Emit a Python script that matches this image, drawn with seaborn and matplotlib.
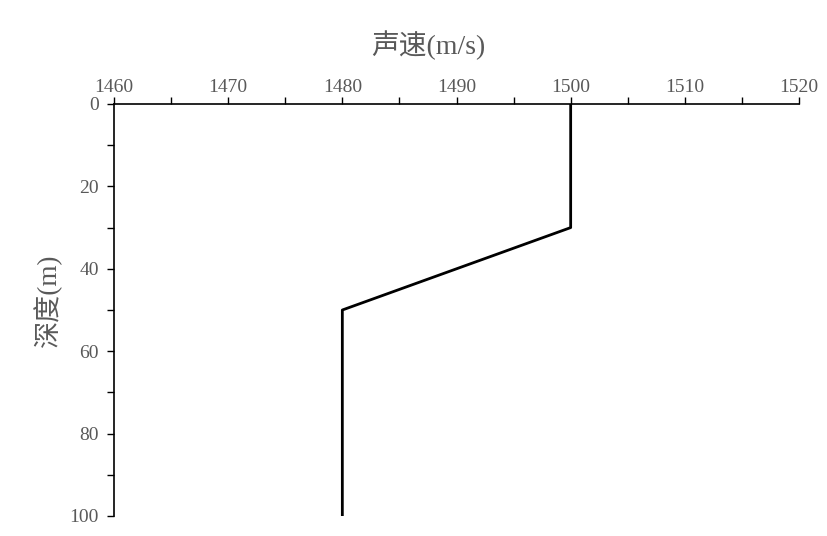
import matplotlib
matplotlib.use("Agg")
import matplotlib.pyplot as plt
import seaborn as sns
import pandas as pd
from matplotlib.ticker import MultipleLocator

speed = [1500, 1500, 1480, 1480]
depth = [0, 30, 50, 100]
x_label = "声速(m/s)"
y_label = "深度(m)"

sns.set_style("white")
plt.rcParams['font.family'] = ['Liberation Serif', 'Noto Sans CJK SC', 'DejaVu Sans']

df = pd.DataFrame({"speed": speed, "depth": depth})

fig = plt.figure(figsize=(8.28, 5.36), dpi=100)
ax = fig.add_axes([114/828, 1 - 516/536, (799 - 114)/828, (516 - 104)/536])
sns.lineplot(data=df, x="speed", y="depth", sort=False, estimator=None,
             color="black", linewidth=2, ax=ax)

ax.set_xlim(1460, 1520)
ax.set_ylim(100, 0)
ax.xaxis.set_major_locator(MultipleLocator(10))
ax.xaxis.set_minor_locator(MultipleLocator(5))
ax.yaxis.set_major_locator(MultipleLocator(20))
ax.yaxis.set_minor_locator(MultipleLocator(10))
ax.xaxis.tick_top()
ax.xaxis.set_label_position("top")
for s in ["right", "bottom"]:
    ax.spines[s].set_visible(False)
for s in ["left", "top"]:
    ax.spines[s].set_color("black")
    ax.spines[s].set_linewidth(1.2)
ax.tick_params(axis="both", which="both", direction="out", colors="black",
               labelcolor="#595959", labelsize=14, width=1, length=5)
ax.tick_params(axis="x", which="both", top=True, bottom=False, pad=1)
ax.tick_params(axis="y", which="both", left=True, right=False, pad=6)
ax.set_xlabel("")
ax.set_ylabel("")

fig.text(428/828, 1 - 45/536, x_label, ha="center", va="center",
         fontsize=20, color="#595959")
fig.text(48/828, 1 - 300/536, y_label, ha="center", va="center",
         rotation=90, fontsize=19.5, color="#595959")

fig.savefig("out.png", dpi=100)
